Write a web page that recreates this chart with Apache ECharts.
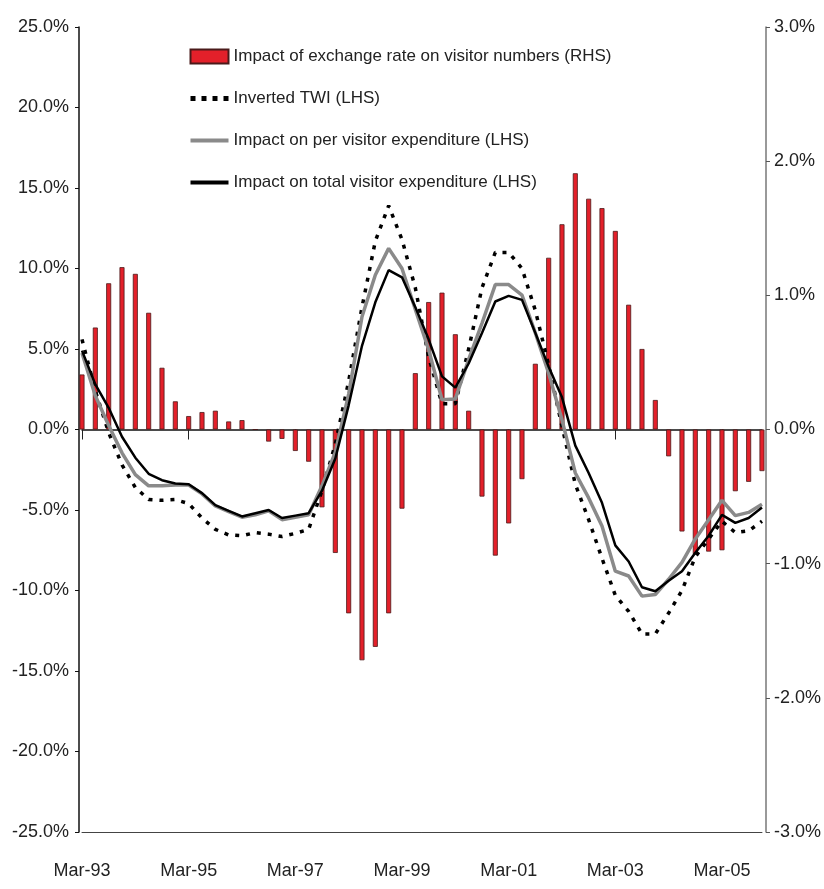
<!DOCTYPE html>
<html>
<head>
<meta charset="utf-8">
<script src="https://cdn.jsdelivr.net/npm/echarts@6/dist/echarts.min.js"></script>
<style>
  html, body { margin: 0; padding: 0; background: #fff; }
  #chart { width: 824px; height: 889px; }
</style>
</head>
<body>
<div id="chart"></div>
<script>
// quarters, Mar-93 .. Dec-05
var quarters = [
  'Mar-93', 'Jun-93', 'Sep-93', 'Dec-93', 'Mar-94', 'Jun-94', 'Sep-94', 'Dec-94',
  'Mar-95', 'Jun-95', 'Sep-95', 'Dec-95', 'Mar-96', 'Jun-96', 'Sep-96', 'Dec-96',
  'Mar-97', 'Jun-97', 'Sep-97', 'Dec-97', 'Mar-98', 'Jun-98', 'Sep-98', 'Dec-98',
  'Mar-99', 'Jun-99', 'Sep-99', 'Dec-99', 'Mar-00', 'Jun-00', 'Sep-00', 'Dec-00',
  'Mar-01', 'Jun-01', 'Sep-01', 'Dec-01', 'Mar-02', 'Jun-02', 'Sep-02', 'Dec-02',
  'Mar-03', 'Jun-03', 'Sep-03', 'Dec-03', 'Mar-04', 'Jun-04', 'Sep-04', 'Dec-04',
  'Mar-05', 'Jun-05', 'Sep-05', 'Dec-05'
]

// impact of exchange rate on visitor numbers (RHS, %)
var visitorNumbers = [
  0.41, 0.76, 1.09, 1.21, 1.16, 0.87, 0.46, 0.21, 0.10, 0.13, 0.14, 0.06, 0.07,
  0, -0.09, -0.07, -0.16, -0.24, -0.58, -0.92, -1.37, -1.72, -1.62, -1.37, -0.59,
  0.42, 0.95, 1.02, 0.71, 0.14, -0.50, -0.94, -0.70, -0.37, 0.49, 1.28, 1.53,
  1.91, 1.72, 1.65, 1.48, 0.93, 0.60, 0.22, -0.20, -0.76, -0.93, -0.91, -0.90,
  -0.46, -0.39, -0.31
]

// inverted TWI (LHS, %)
var invertedTwi = [
  5.6, 2.4, -0.2, -2.2, -3.6, -4.35, -4.4, -4.35, -4.6, -5.5, -6.2, -6.55, -6.6,
  -6.4, -6.5, -6.65, -6.45, -6.2, -3.8, -0.9, 3.0, 7.6, 11.7, 13.9, 11.8,
  8.8, 4.5, 1.6, 1.6, 5.0, 8.8, 11.0, 11.0, 10.0, 7.4, 4.0, 0.2,
  -3.4, -5.6, -8.0, -10.3, -11.3, -12.7, -12.7, -11.4, -10.0, -7.9, -6.8, -5.7,
  -6.4, -6.3, -5.7
]

// impact on per visitor expenditure (LHS, %)
var perVisitor = [
  4.75, 2.1, 0.25, -1.45, -2.8, -3.5, -3.5, -3.45, -3.45, -4.0, -4.75, -5.1, -5.45,
  -5.3, -5.05, -5.6, -5.45, -5.3, -3.5, -1.4, 2.2, 7.0, 9.6, 11.25, 10.0,
  7.45, 4.95, 1.85, 1.9, 4.35, 6.6, 9.0, 9.0, 8.35, 6.0, 3.5, 0.6,
  -2.7, -4.25, -6.0, -8.8, -9.1, -10.35, -10.25, -9.3, -8.25, -6.8, -5.6, -4.4,
  -5.35, -5.15, -4.65
]

// impact on total visitor expenditure (LHS, %)
var totalVisitor = [
  4.9, 2.8, 1.35, -0.45, -1.75, -2.75, -3.15, -3.35, -3.4, -3.95, -4.7, -5.05, -5.4,
  -5.2, -5.0, -5.5, -5.35, -5.2, -3.8, -1.8, 1.5, 5.2, 7.9, 9.9, 9.45,
  7.6, 5.6, 3.3, 2.6, 4.1, 6.0, 7.95, 8.3, 8.05, 6.0, 3.9, 2.0,
  -1.0, -2.7, -4.55, -7.2, -8.2, -9.8, -10.05, -9.4, -8.8, -7.65, -6.6, -5.3,
  -5.8, -5.5, -4.85
]

var seriesNames = [
  'Impact of exchange rate on visitor numbers (RHS)',
  'Inverted TWI (LHS)',
  'Impact on per visitor expenditure (LHS)',
  'Impact on total visitor expenditure (LHS)'
]

var FONT = '"Liberation Sans Narrow", "Arial Narrow", "Liberation Sans", sans-serif'

var chart = echarts.init(document.getElementById('chart'))

var option = {
  animation: false,
  backgroundColor: '#fff',
  textStyle: { fontFamily: FONT },
  grid: { left: 82, right: 62, top: 27, bottom: 57 },
  legend: {
    orient: 'vertical',
    left: 183,
    top: 43,
    itemWidth: 38,
    itemHeight: 14,
    itemGap: 25,
    textStyle: { fontFamily: FONT, fontSize: 17, color: '#222' },
    data: [
      { name: seriesNames[0], icon: 'rect' },
      { name: seriesNames[1], itemStyle: { opacity: 0 }, lineStyle: { width: 5, type: [5, 6] } },
      { name: seriesNames[2], itemStyle: { opacity: 0 }, lineStyle: { width: 4 } },
      { name: seriesNames[3], itemStyle: { opacity: 0 }, lineStyle: { width: 4 } }
    ]
  },
  xAxis: [
    {
      // bottom frame with labels
      type: 'category',
      data: quarters,
      boundaryGap: false,
      position: 'bottom',
      axisLine: { onZero: false, lineStyle: { color: '#444', width: 1 } },
      axisTick: { show: false },
      axisLabel: { interval: 7, margin: 30, fontSize: 18, color: '#222', fontFamily: FONT },
      splitLine: { show: false }
    },
    {
      // zero line with ticks
      type: 'category',
      data: quarters,
      boundaryGap: false,
      position: 'bottom',
      axisLine: { onZero: true, lineStyle: { color: '#111', width: 1.5 } },
      axisTick: { interval: 7, length: 10, lineStyle: { color: '#222' } },
      axisLabel: { show: false },
      splitLine: { show: false }
    }
  ],
  yAxis: [
    {
      type: 'value',
      min: -25,
      max: 25,
      interval: 5,
      offset: 3,
      axisLine: { show: true, lineStyle: { color: '#111', width: 1.5 } },
      axisTick: { show: true, length: 4, lineStyle: { color: '#111' } },
      axisLabel: {
        margin: 10, fontSize: 18, color: '#222', fontFamily: FONT,
        formatter: function (v) { return v.toFixed(1) + '%' }
      },
      splitLine: { show: false }
    },
    {
      type: 'value',
      min: -3,
      max: 3,
      interval: 1,
      offset: 4,
      position: 'right',
      axisLine: { show: true, lineStyle: { color: '#777', width: 1.5 } },
      axisTick: { show: true, length: 4, lineStyle: { color: '#555' } },
      axisLabel: {
        margin: 8, fontSize: 18, color: '#222', fontFamily: FONT,
        formatter: function (v) { return v.toFixed(1) + '%' }
      },
      splitLine: { show: false }
    }
  ],
  series: [
    {
      name: seriesNames[0],
      type: 'bar',
      yAxisIndex: 1,
      barWidth: 5,
      data: visitorNumbers,
      itemStyle: { color: '#e3202a', borderColor: '#4a1a1a', borderWidth: 0.8 },
      z: 1
    },
    {
      name: seriesNames[1],
      type: 'line',
      data: invertedTwi,
      symbol: 'none',
      itemStyle: { color: '#000' },
      lineStyle: { color: '#000', width: 3.5, type: [4, 7] },
      z: 2
    },
    {
      name: seriesNames[2],
      type: 'line',
      data: perVisitor,
      symbol: 'none',
      itemStyle: { color: '#8a8a8a' },
      lineStyle: { color: '#8a8a8a', width: 3.5 },
      z: 3
    },
    {
      name: seriesNames[3],
      type: 'line',
      data: totalVisitor,
      symbol: 'none',
      itemStyle: { color: '#000' },
      lineStyle: { color: '#000', width: 2.5 },
      z: 4
    }
  ]
}

chart.setOption(option)
</script>
</body>
</html>
